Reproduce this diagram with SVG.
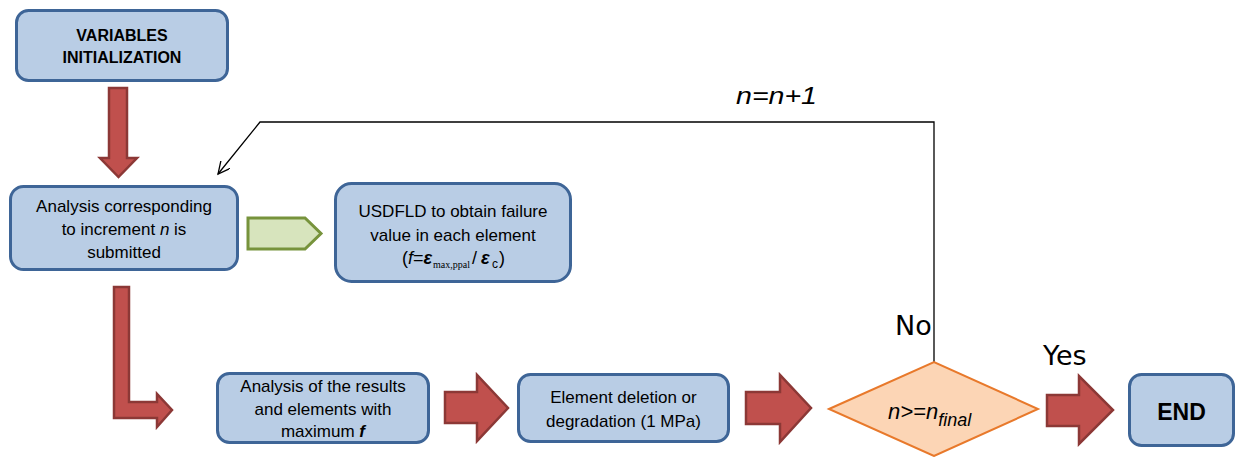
<svg xmlns="http://www.w3.org/2000/svg" width="1236" height="457" viewBox="0 0 1236 457">
<defs>
<style>
.box{fill:#B9CDE5;stroke:#3E6597;stroke-width:3}
.red{fill:#C0504D;stroke:#8C3836;stroke-width:2.5;stroke-linejoin:miter}
.grn{fill:#D7E4BD;stroke:#77933C;stroke-width:3}
.dia{fill:#FCD5B5;stroke:#E8792B;stroke-width:2}
.t{font-family:"Liberation Sans",Arial,sans-serif;font-size:17px;fill:#000;text-anchor:middle}
.tb{font-family:"Liberation Sans",Arial,sans-serif;font-size:16px;font-weight:bold;fill:#000;text-anchor:middle}
.lbl{font-family:"DejaVu Sans",sans-serif;font-size:27px;fill:#000}
.conn{fill:none;stroke:#000;stroke-width:1.3}
</style>
<marker id="open" markerWidth="14" markerHeight="14" refX="12" refY="6" orient="auto" markerUnits="userSpaceOnUse">
<path d="M0,0 L12,6 L0,12" fill="none" stroke="#000" stroke-width="1.3"/>
</marker>
</defs>
<rect width="1236" height="457" fill="#FFFFFF"/>

<g id="connectors">
<polygon class="red" points="109,88 127,88 127,158 137,158 118.5,177 100,158 109,158"/>
<polygon class="grn" points="248,218 305,218 321,233.5 305,249 248,249"/>
<polygon class="red" points="114,287 129,287 129,402 157,402 157,394 172,410 157,427 157,418 114,418"/>
<polygon class="red" points="445,392 477,392 477,375 508,408 477,441 477,423 445,423"/>
<polygon class="red" points="746,392 780,392 780,375 811,408 780,442 780,424 746,424"/>
<polygon class="red" points="1047,395 1079,395 1079,376 1113,410 1079,444 1079,426 1047,426"/>
<polyline class="conn" points="934,362 934,122 260,122 218,174" marker-end="url(#open)"/>
<text class="lbl" x="895" y="335">No</text>
<text class="lbl" x="1043" y="365">Yes</text>
<text x="736" y="104" font-family="Liberation Sans,Arial,sans-serif" font-size="24" font-style="italic" textLength="81" lengthAdjust="spacingAndGlyphs">n=n+1</text>
</g>

<g id="node-init">
<rect class="box" x="16.5" y="10.5" width="211" height="70" rx="12"/>
<text class="tb" x="122" y="41">VARIABLES</text>
<text class="tb" x="122" y="63">INITIALIZATION</text>
</g>

<g id="node-analysis">
<rect class="box" x="10.5" y="186.5" width="227" height="83" rx="13"/>
<text class="t" x="124" y="212">Analysis corresponding</text>
<text class="t" x="124" y="235">to increment <tspan font-style="italic">n</tspan> is</text>
<text class="t" x="124" y="258">submitted</text>
</g>

<g id="node-usdfld">
<rect class="box" x="335.5" y="183.5" width="235" height="98" rx="16"/>
<text class="t" x="453" y="217">USDFLD to obtain failure</text>
<text class="t" x="453" y="241">value in each element</text>
<text font-family="Liberation Sans,Arial,sans-serif" font-size="18" fill="#000"><tspan x="402" y="264">(</tspan><tspan font-style="italic">f</tspan><tspan>=</tspan><tspan font-style="italic" font-weight="bold">ε</tspan><tspan x="433" y="268" font-family="Liberation Serif,Times New Roman,serif" font-size="10">max,ppal</tspan><tspan x="472" y="264">/</tspan><tspan x="481" y="264" font-style="italic" font-weight="bold">ε</tspan><tspan x="492" y="268" font-size="12">c</tspan><tspan x="499" y="264">)</tspan></text>
</g>

<g id="node-results">
<rect class="box" x="217.5" y="373.5" width="211" height="69" rx="12"/>
<text class="t" x="323" y="392">Analysis of the results</text>
<text class="t" x="323" y="415">and elements with</text>
<text class="t" x="323" y="437">maximum <tspan font-style="italic" font-weight="bold">f</tspan></text>
</g>

<g id="node-deletion">
<rect class="box" x="518.5" y="374.5" width="210" height="67" rx="12"/>
<text class="t" x="623.5" y="403">Element deletion or</text>
<text class="t" x="623.5" y="427">degradation (1 MPa)</text>
</g>

<g id="node-decision">
<polygon class="dia" points="829,409 934,362 1038,409 934,456"/>
<text font-family="Liberation Sans,Arial,sans-serif" font-size="22" font-style="italic" fill="#000"><tspan x="888" y="419">n&gt;=n</tspan><tspan font-size="18" dy="7">final</tspan></text>
</g>

<g id="node-end">
<rect class="box" x="1129.5" y="374.5" width="104" height="71" rx="12"/>
<text x="1181.5" y="420" font-family="Liberation Sans,Arial,sans-serif" font-size="23" font-weight="bold" text-anchor="middle" fill="#000">END</text>
</g>
</svg>
